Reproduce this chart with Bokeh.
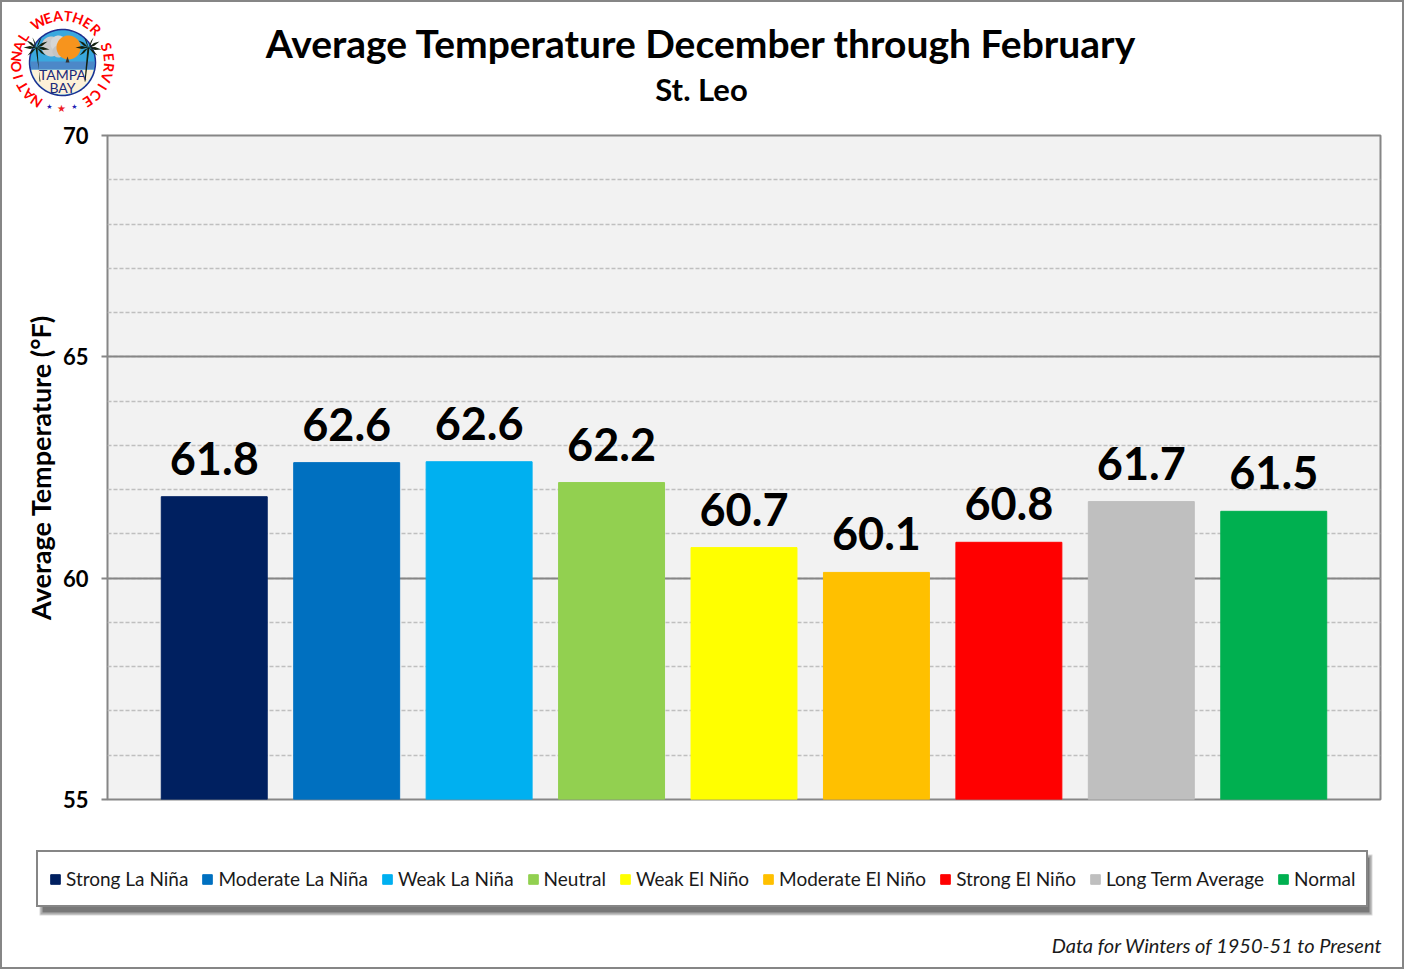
from bokeh.plotting import figure
from bokeh.core.properties import value
from bokeh.layouts import column
from bokeh.models import ColumnDataSource, FactorRange, FixedTicker, Range1d
from bokeh.embed import file_html
from bokeh.resources import INLINE
import numpy as np

# --- Data ---
categories = ["Strong La Niña", "Moderate La Niña", "Weak La Niña", "Neutral", "Weak El Niño",
              "Moderate El Niño", "Strong El Niño", "Long Term Average", "Normal"]
temps = [61.84, 62.61, 62.63, 62.16, 60.69, 60.13, 60.81, 61.73, 61.51]
colors = ["#002060", "#0070C0", "#00B0F0", "#92D050", "#FFFF00",
          "#FFC000", "#FF0000", "#BFBFBF", "#00B050"]
y_ticks = [55, 60, 65, 70]
y_minor = list(range(55, 71))
title = "Average Temperature December through February"
subtitle = "St. Leo"
footnote = "Data for Winters of 1950-51 to Present"
ring_text = "NATIONAL WEATHER SERVICE"

FONT = "Lato"
GRAY = "#868686"
EDGE = 2  # outer border
W = 1404 - 2 * EDGE
SPLIT_TOP = 120  # page y where the main figure starts
SPLIT_BOTTOM = 815  # page y where the main figure ends


def band(y_start, y_end):
    # plain figure whose frame fills it, data coords = page pixels
    b = figure(width=W, height=abs(y_start - y_end), output_backend="svg", toolbar_location=None,
               x_range=Range1d(EDGE, 1404 - EDGE), y_range=Range1d(y_start, y_end),
               x_axis_location=None, y_axis_location=None, min_border=0, frame_align=False,
               background_fill_color="white", border_fill_color="white")
    b.outline_line_color = None
    b.grid.visible = False
    return b


# --- Header band: titles and logo ---
top = band(SPLIT_TOP, EDGE)
top.text(x=[701], y=[42], text=[title], text_align="center", text_baseline="middle",
         text_font=value(FONT), text_font_style="bold", text_font_size="39px", text_color="black")
top.text(x=[701], y=[88], text=[subtitle], text_align="center", text_baseline="middle",
         text_font=value(FONT), text_font_style="bold", text_font_size="31px", text_color="black")


def disc(cx, cy, r, color, line=None, lw=1, a0=0, a1=360):
    t = np.radians(np.linspace(a0, a1, 60))
    top.patch(cx + r * np.cos(t), cy + r * np.sin(t), fill_color=color, line_color=line, line_width=lw)


LX, LY = 62, 62
disc(LX, LY, 33, "#3AA8DE", "#1F2F8F", 1.5)
disc(51, 46, 10, "#CBCBCB")
disc(58, 43, 8, "#D6D6D6")
disc(58, 51, 6, "#C4C4C4")
disc(68, 47, 12, "#F7941D")
top.patch([30, 94, 93, 31], [61, 61, 69, 69], fill_color="#4C88C8", line_color=None)
disc(LX, LY, 32, "#FDF1D8", a0=13, a1=167)
top.patch([65, 67, 69], [62, 56, 62], fill_color="#333333", line_color=None)

# palm trunks + fronds
for tx, sign in [(35, -1), (87, 1)]:
    top.patch([tx, tx + 2, tx - sign * 3 + 1, tx - sign * 4 + 1], [47, 47, 81, 81],
              fill_color="#12210f", line_color=None)
    for dx, dy in [(-13, 0), (-10, -7), (-4, -10), (5, -10), (11, -6), (13, 2), (-9, 8), (9, 8)]:
        top.patch([tx + 1, tx + 1 + dx * 0.5, tx + 1 + dx, tx + 1 + dx * 0.5],
                  [47, 47 + dy * 0.5 - 1.5, 47 + dy, 47 + dy * 0.5 + 1.5],
                  fill_color="#12210f", line_color=None)

top.text(x=[LX, LX], y=[74, 87], text=["TAMPA", "BAY"], text_align="center", text_baseline="middle",
         text_font=value(FONT), text_font_size="14px", text_color="#1B2A7B")

ths = np.radians(-146 + np.arange(len(ring_text)) * 293 / (len(ring_text) - 1))
top.text(x=LX + 47 * np.sin(ths), y=LY - 47 * np.cos(ths), text=list(ring_text), angle=-ths,
         text_align="center", text_baseline="middle", text_font=value(FONT), text_font_style="bold",
         text_font_size="14px", text_color="#FF0000")
top.text(x=[49, 61, 74], y=[106, 108, 106], text=["★", "★", "★"], text_align="center",
         text_baseline="middle", text_font=value("DejaVu Sans"), text_font_size=["7px", "10px", "7px"],
         text_color=["#1F1FB4", "#EE1C25", "#1F1FB4"])

# --- Main chart ---
source = ColumnDataSource(data=dict(
    cat=categories, temp=temps, color=colors,
    text=[f"{t:.1f}" for t in temps],
))

p = figure(width=W, height=SPLIT_BOTTOM - SPLIT_TOP, output_backend="svg", toolbar_location=None,
           x_range=FactorRange(factors=categories, range_padding=0.068, range_padding_units="percent"),
           y_range=Range1d(55, 70), frame_align=False,
           min_border_left=107 - EDGE, min_border_right=24 - EDGE, min_border_top=135 - SPLIT_TOP,
           min_border_bottom=16, background_fill_color="#F2F2F2", border_fill_color="white")
p.outline_line_color = GRAY
p.outline_line_width = 2

p.xaxis.visible = False
p.xgrid.visible = False

yax = p.yaxis[0]
yax.ticker = FixedTicker(ticks=y_ticks, minor_ticks=y_minor)
yax.axis_line_color = None
yax.major_tick_in = 0
yax.major_tick_out = 6
yax.major_tick_line_color = GRAY
yax.major_tick_line_width = 2
yax.minor_tick_in = 0
yax.minor_tick_out = 0
yax.major_label_standoff = 13
yax.major_label_text_font = FONT
yax.major_label_text_font_style = "bold"
yax.major_label_text_font_size = "22px"
yax.major_label_text_color = "black"
yax.axis_label = "Average Temperature (°F)"
yax.axis_label_text_font = FONT
yax.axis_label_text_font_style = "bold"
yax.axis_label_text_font_size = "27px"
yax.axis_label_text_color = "black"
yax.axis_label_standoff = 3

p.ygrid.grid_line_color = GRAY
p.ygrid.grid_line_width = 2
p.ygrid.minor_grid_line_color = "#BFBFBF"
p.ygrid.minor_grid_line_dash = [4, 2]
p.ygrid.minor_grid_line_width = 1.3

p.vbar(x="cat", top="temp", bottom=55, width=0.8, color="color", source=source)
p.text(x="cat", y="temp", text="text", source=source, y_offset=-22,
       text_align="center", text_baseline="bottom",
       text_font=value(FONT), text_font_style="bold", text_font_size="45px", text_color="black")

# --- Bottom band: legend and footnote ---
bottom = band(969 - EDGE, SPLIT_BOTTOM)

# soft shadow under the legend
for grow, a in [(3, 0.15), (2, 0.2), (0, 0.3)]:
    bottom.quad(left=42 - grow, right=1369 + grow, top=857 - grow, bottom=912 + grow,
                fill_color="black", fill_alpha=a, line_color=None)

for name, c in zip(categories, colors):
    bottom.quad(left=[np.nan], right=[np.nan], top=[np.nan], bottom=[np.nan], color=c, legend_label=name)

leg = bottom.legend[0]
leg.orientation = "horizontal"
leg.ncols = len(categories)
leg.location = (36 - EDGE, 969 - EDGE - 907)
leg.glyph_width = 12
leg.glyph_height = 12
leg.label_standoff = 5
leg.spacing = 13
leg.padding = 11
leg.label_height = 31
leg.margin = 0
leg.label_text_font = FONT
leg.label_text_font_size = "19px"
leg.label_text_color = "#1a1a1a"
leg.border_line_color = GRAY
leg.border_line_alpha = 1
leg.border_line_width = 2
leg.background_fill_color = "white"
leg.background_fill_alpha = 1

bottom.text(x=[1382], y=[944], text=[footnote], text_align="right", text_baseline="middle",
            text_font=value(FONT), text_font_style="italic", text_font_size="20px", text_color="#1a1a1a")

page = column(top, p, bottom, spacing=0, styles={"border": f"{EDGE}px solid {GRAY}"})

open("out.html", "w").write(file_html(page, INLINE))
